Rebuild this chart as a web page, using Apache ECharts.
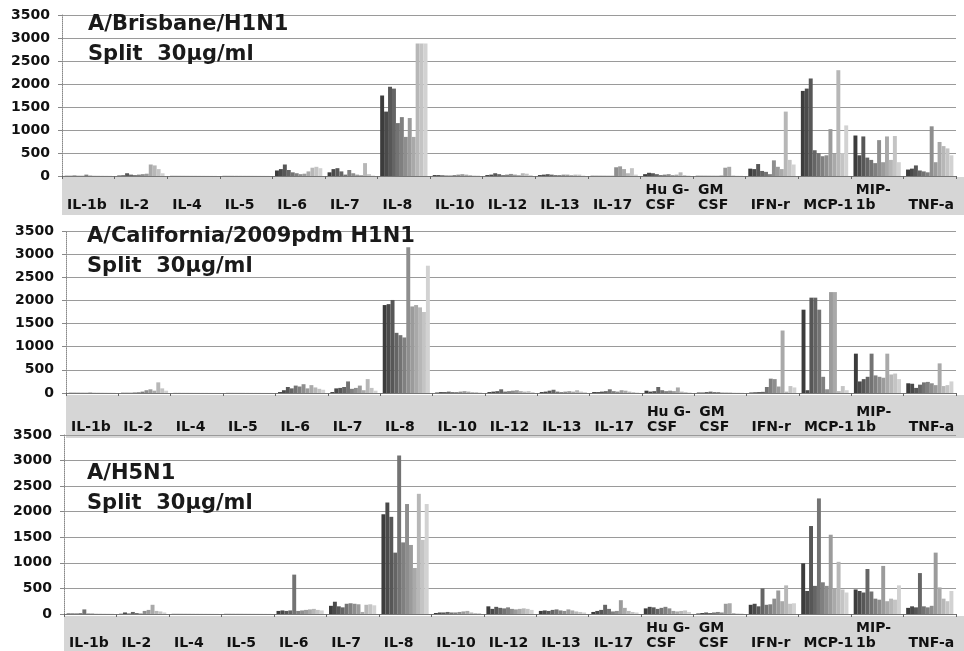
<!DOCTYPE html>
<html>
<head>
<meta charset="utf-8">
<script src="https://cdn.jsdelivr.net/npm/echarts@6/dist/echarts.min.js"></script>
<style>
html,body{margin:0;padding:0;background:#fff;}
#chart{width:964px;height:651px;}
</style>
</head>
<body>
<div id="chart"></div>
<script>
// Categories (cytokines) and their printed tick labels
const categories = ['IL-1b','IL-2','IL-4','IL-5','IL-6','IL-7','IL-8','IL-10','IL-12','IL-13','IL-17','Hu G-CSF','GM CSF','IFN-r','MCP-1','MIP-1b','TNF-a'];
const categoryTickLabels = ['IL-1b','IL-2','IL-4','IL-5','IL-6','IL-7','IL-8','IL-10','IL-12','IL-13','IL-17','Hu G-\nCSF','GM\nCSF','IFN-r','MCP-1','MIP-\n1b','TNF-a',''];
const panelTitles = ['A/Brisbane/H1N1\nSplit  30µg/ml','A/California/2009pdm H1N1\nSplit  30µg/ml','A/H5N1\nSplit  30µg/ml'];
const yMin = 0, yMax = 3500, yStep = 500;

// Panel 1: A/Brisbane/H1N1 — one row per category, 12 bars (samples) each
const brisbane = [
  [5, 5, 10, 5, 5, 30, 10, 5, 5, 5, 5, 5],
  [10, 15, 60, 30, 20, 30, 40, 50, 250, 230, 150, 60],
  [3, 3, 3, 3, 3, 3, 3, 3, 3, 3, 3, 3],
  [3, 3, 3, 3, 3, 3, 3, 3, 3, 3, 3, 3],
  [120, 150, 250, 130, 80, 60, 40, 50, 100, 180, 200, 170],
  [80, 150, 170, 100, 30, 130, 60, 30, 20, 280, 40, 10],
  [1750, 1400, 1940, 1900, 1150, 1280, 850, 1260, 850, 2880, 2880, 2880],
  [20, 20, 15, 10, 10, 20, 30, 40, 30, 20, 10, 10],
  [20, 30, 60, 40, 20, 30, 45, 30, 20, 60, 50, 20],
  [20, 30, 40, 30, 20, 20, 30, 30, 20, 30, 30, 10],
  [5, 5, 5, 5, 5, 5, 190, 210, 150, 60, 170, 30],
  [40, 70, 60, 40, 20, 30, 40, 20, 30, 80, 20, 10],
  [5, 5, 5, 5, 5, 5, 10, 180, 200, 10, 5, 5],
  [160, 150, 260, 110, 90, 40, 340, 200, 150, 1400, 350, 250],
  [1850, 1900, 2120, 560, 500, 430, 450, 1020, 480, 2300, 500, 1100],
  [880, 450, 860, 400, 350, 280, 780, 300, 860, 350, 870, 300],
  [140, 160, 230, 120, 100, 80, 1080, 300, 740, 650, 600, 450]
];

// Panel 2: A/California/2009pdm H1N1
const california = [
  [5, 5, 5, 5, 5, 10, 5, 5, 5, 5, 5, 5],
  [5, 5, 5, 10, 15, 30, 60, 80, 50, 230, 100, 50],
  [2, 2, 2, 2, 2, 2, 2, 2, 2, 2, 2, 2],
  [2, 2, 2, 2, 2, 2, 2, 2, 2, 2, 2, 2],
  [20, 60, 130, 100, 160, 140, 190, 100, 170, 120, 90, 70],
  [20, 100, 110, 130, 250, 90, 110, 160, 60, 300, 110, 50],
  [1900, 1920, 2010, 1300, 1250, 1200, 3150, 1870, 1900, 1850, 1750, 2750],
  [10, 20, 20, 30, 20, 20, 30, 40, 30, 20, 20, 10],
  [20, 30, 40, 80, 30, 40, 50, 60, 40, 30, 40, 20],
  [20, 30, 50, 70, 30, 20, 30, 40, 30, 60, 30, 20],
  [20, 20, 30, 40, 80, 40, 30, 60, 50, 30, 20, 10],
  [50, 30, 40, 130, 60, 40, 50, 40, 120, 30, 20, 10],
  [10, 10, 20, 30, 20, 20, 10, 10, 10, 5, 5, 5],
  [10, 15, 20, 25, 130, 310, 300, 140, 1350, 30, 150, 120],
  [1800, 60, 2060, 2060, 1800, 350, 80, 2180, 2180, 40, 150, 60],
  [850, 250, 300, 350, 850, 380, 350, 330, 850, 400, 420, 300],
  [210, 200, 110, 180, 230, 240, 210, 170, 640, 150, 170, 250]
];

// Panel 3: A/H5N1
const h5n1 = [
  [10, 10, 10, 15, 90, 10, 10, 5, 5, 5, 5, 5],
  [5, 30, 10, 40, 20, 10, 60, 80, 180, 60, 50, 30],
  [3, 3, 3, 3, 3, 3, 3, 3, 3, 3, 3, 3],
  [3, 3, 3, 3, 3, 3, 3, 3, 3, 3, 3, 3],
  [60, 70, 60, 70, 770, 60, 70, 80, 90, 100, 80, 70],
  [160, 240, 150, 130, 200, 210, 200, 190, 40, 180, 190, 170],
  [1950, 2180, 1900, 1200, 3100, 1400, 2150, 1350, 900, 2350, 1450, 2150],
  [20, 30, 30, 40, 30, 30, 40, 50, 60, 30, 20, 20],
  [150, 100, 140, 120, 110, 130, 100, 90, 100, 110, 100, 80],
  [60, 70, 60, 80, 90, 70, 60, 90, 70, 50, 40, 30],
  [40, 60, 80, 180, 100, 50, 60, 270, 120, 60, 40, 30],
  [110, 140, 130, 100, 120, 140, 110, 60, 50, 60, 70, 40],
  [10, 20, 30, 20, 30, 40, 30, 200, 210, 20, 10, 10],
  [180, 200, 150, 500, 180, 190, 300, 460, 250, 560, 200, 210],
  [990, 450, 1720, 550, 2260, 620, 550, 1550, 500, 1020, 480, 420],
  [480, 450, 420, 880, 440, 300, 280, 940, 250, 300, 280, 560],
  [120, 150, 130, 800, 150, 130, 160, 1200, 520, 300, 250, 450]
];

const panels = [brisbane, california, h5n1];
const nBars = 12;

// ---- styling / layout ----
const FONT = 'DejaVu Sans';
const gridBoxes = [
  {left: 62, top: 15, width: 902, height: 161},
  {left: 66, top: 231, width: 898, height: 162},
  {left: 64, top: 435, width: 900, height: 179}
];
const labelMargins = [37, 42, 37];
const titlePos = [{left: 88, top: 10}, {left: 87, top: 222}, {left: 87, top: 459}];
const bands = [
  {x: 62, y: 177, w: 902, h: 38},
  {x: 66, y: 395, w: 898, h: 43},
  {x: 64, y: 616, w: 900, h: 35}
];

function shade(i) {
  const v = Math.round(60 + (150 * i) / (nBars - 1));
  return 'rgb(' + v + ',' + v + ',' + v + ')';
}

const grid = [], xAxis = [], yAxis = [], series = [], title = [], graphicEls = [];
panels.forEach((rows, p) => {
  grid.push({left: gridBoxes[p].left, top: gridBoxes[p].top, width: gridBoxes[p].width, height: gridBoxes[p].height});
  title.push({
    text: panelTitles[p], left: titlePos[p].left, top: titlePos[p].top, padding: 0,
    textStyle: {fontFamily: FONT, fontWeight: 'bold', fontSize: 21, lineHeight: 30, color: '#1a1a1a'}
  });
  graphicEls.push({type: 'rect', z: -10, silent: true,
    shape: {x: bands[p].x, y: bands[p].y, width: bands[p].w, height: bands[p].h},
    style: {fill: '#d6d6d6'}});
  // bar axis
  xAxis.push({
    gridIndex: p, type: 'category', data: categories,
    axisLine: {show: true, lineStyle: {color: '#777', width: 1}},
    axisTick: {show: false}, axisLabel: {show: false}
  });
  // label axis (labels start at category boundaries)
  xAxis.push({
    gridIndex: p, type: 'category', data: categoryTickLabels, boundaryGap: false, position: 'bottom',
    axisLine: {show: false},
    axisTick: {show: true, length: 3, interval: 0, lineStyle: {color: '#666'}},
    axisLabel: {interval: 0, align: 'left', verticalAlign: 'bottom', margin: labelMargins[p],
      padding: [0, 0, 0, 5], fontFamily: FONT, fontWeight: 'bold', fontSize: 14, lineHeight: 15, color: '#111'}
  });
  yAxis.push({
    gridIndex: p, type: 'value', min: yMin, max: yMax, interval: yStep,
    axisLine: {show: true, lineStyle: {color: '#888', type: 'dotted', width: 1}},
    axisTick: {show: true, length: 4, lineStyle: {color: '#888'}},
    axisLabel: {margin: 12, fontFamily: FONT, fontWeight: 'bold', fontSize: 14, color: '#111', formatter: v => String(v)},
    splitLine: {show: true, lineStyle: {color: '#9a9a9a', type: 'solid', width: 1}}
  });
  for (let s = 0; s < nBars; s++) {
    series.push({
      type: 'bar', xAxisIndex: p * 2, yAxisIndex: p,
      data: rows.map(r => r[s]),
      barGap: '0%', barCategoryGap: '10%',
      itemStyle: {color: shade(s)}
    });
  }
});

const chart = echarts.init(document.getElementById('chart'));
chart.setOption({
  animation: false,
  title, grid, xAxis, yAxis, series,
  graphic: {elements: graphicEls}
});
</script>
</body>
</html>
